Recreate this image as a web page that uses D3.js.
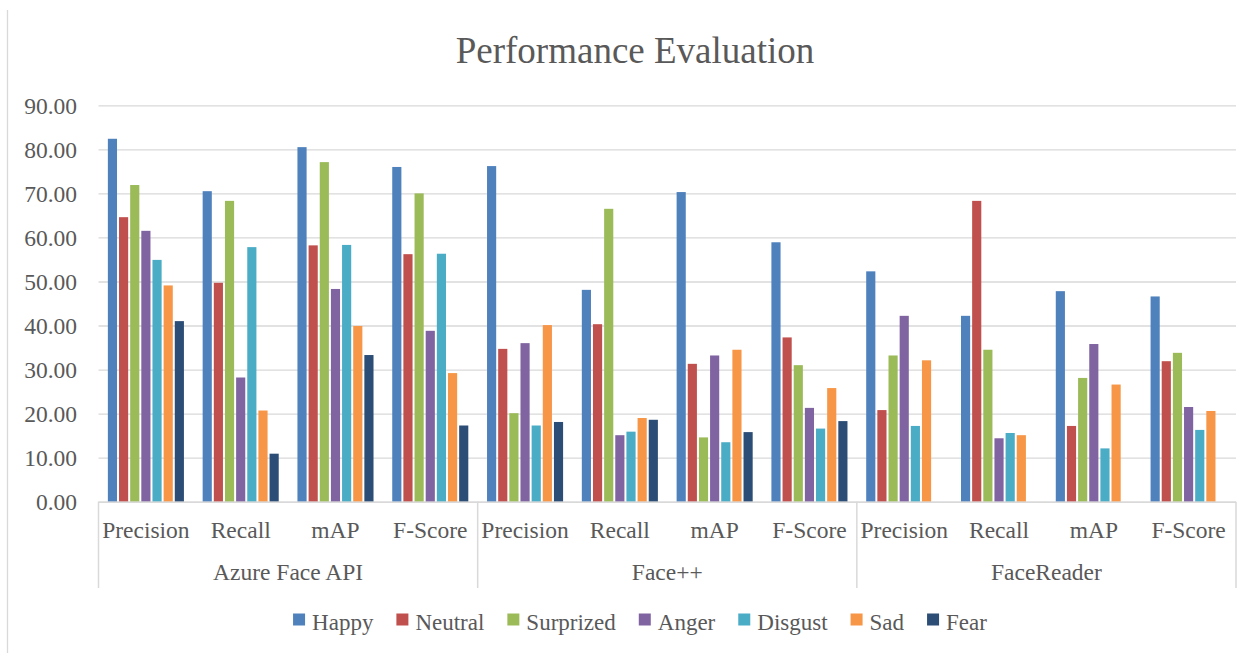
<!DOCTYPE html>
<html>
<head>
<meta charset="utf-8">
<script src="https://cdn.jsdelivr.net/npm/d3@7"></script>
<style>
  html, body { margin: 0; padding: 0; background: #fff; }
  svg { display: block; }
  text { font-family: "Liberation Serif", "Times New Roman", serif; fill: #595959; }
</style>
</head>
<body>
<svg id="chart" width="1253" height="653"></svg>
<script>
// ---- Data ----
const groups = ["Azure Face API", "Face++", "FaceReader"];
const metrics = ["Precision", "Recall", "mAP", "F-Score"];
const seriesNames = ["Happy", "Neutral", "Surprized", "Anger", "Disgust", "Sad", "Fear"];
const seriesColors = ["#4F81BD", "#C0504D", "#9BBB59", "#8064A2", "#4BACC6", "#F79646", "#2C4D75"];
const yTicks = [0, 10, 20, 30, 40, 50, 60, 70, 80, 90];

// values per series, ordered: Azure(P,R,mAP,F), Face++(P,R,mAP,F), FaceReader(P,R,mAP,F)
const happy     = [82.4, 70.5, 80.5, 76.0,  76.2, 48.1, 70.3, 58.9,  52.3, 42.2, 47.8, 46.6];
const neutral   = [64.6, 49.7, 58.2, 56.2,  34.7, 40.3, 31.3, 37.3,  20.8, 68.3, 17.2, 31.9];
const surprized = [71.9, 68.3, 77.1, 70.0,  20.1, 66.5, 14.6, 31.0,  33.2, 34.5, 28.1, 33.8];
const anger     = [61.5, 28.2, 48.3, 38.8,  36.0, 15.1, 33.2, 21.3,  42.2, 14.4, 35.8, 21.5];
const disgust   = [54.9, 57.8, 58.3, 56.3,  17.3, 15.9, 13.5, 16.6,  17.2, 15.6, 12.1, 16.3];
const sad       = [49.1, 20.7, 39.9, 29.2,  40.1, 19.0, 34.5, 25.8,  32.1, 15.1, 26.6, 20.6];
const fear      = [41.0, 10.9, 33.3, 17.3,  18.1, 18.6, 15.8, 18.3,  null, null, null, null];
const seriesValues = [happy, neutral, surprized, anger, disgust, sad, fear];

// ---- Layout ----
const svg = d3.select("#chart");
const plot = { left: 98.5, right: 1236, top: 105.3, bottom: 501.7 };

const categories = [];
groups.forEach(g => metrics.forEach(m => categories.push(g + "|" + m)));

const x0 = d3.scaleBand().domain(categories).range([plot.left, plot.right]).paddingInner(0).paddingOuter(0);
const x1 = d3.scaleBand().domain(seriesNames).range([0, x0.bandwidth()]).paddingOuter(0.75 / 8.5 * 8.5 / 7 * 0).padding(0);
// Excel gap width 150%: 7 bars + 1.5 bar widths gap per category
const slot = x0.bandwidth() / 8.5;
x1.range([slot * 0.75, slot * 0.75 + slot * 7]);
const xg = d3.scaleBand().domain(groups).range([plot.left, plot.right]);
const y = d3.scaleLinear().domain([0, 90]).range([plot.bottom, plot.top]);

// left border
svg.append("line").attr("x1", 7.5).attr("x2", 7.5).attr("y1", 10).attr("y2", 653)
  .attr("stroke", "#d9d9d9").attr("stroke-width", 1.3);

// title
svg.append("text").attr("x", 635).attr("y", 63.3).attr("text-anchor", "middle")
  .style("font-size", "37px").text("Performance Evaluation");

// gridlines
const yAxis = d3.axisLeft(y).tickValues(yTicks).tickSize(-(plot.right - plot.left)).tickFormat(d3.format(".2f"));
const gy = svg.append("g").attr("transform", `translate(${plot.left},0)`).call(yAxis);
gy.select(".domain").remove();
gy.selectAll(".tick line").attr("stroke", "#d9d9d9").attr("stroke-width", 1.3);
gy.selectAll(".tick text").attr("x", -21.5).attr("dy", "0.34em")
  .style("font-size", "23.5px").style("fill", "#595959");

// bars
const barData = [];
seriesValues.forEach((vals, si) => {
  vals.forEach((v, ci) => {
    if (v !== null) barData.push({ s: seriesNames[si], c: categories[ci], v: v, color: seriesColors[si] });
  });
});
svg.append("g").selectAll("rect").data(barData).join("rect")
  .attr("x", d => x0(d.c) + x1(d.s) + 1)
  .attr("width", x1.bandwidth() - 2)
  .attr("y", d => y(d.v))
  .attr("height", d => y(0) - y(d.v))
  .attr("fill", d => d.color);

// category axis line
svg.append("line").attr("x1", plot.left).attr("x2", plot.right).attr("y1", plot.bottom + 0.5).attr("y2", plot.bottom + 0.5)
  .attr("stroke", "#d9d9d9").attr("stroke-width", 1.5);
// group separators
const seps = groups.map(g => xg(g)).concat([plot.right]);
svg.append("g").selectAll("line").data(seps).join("line")
  .attr("x1", d => d).attr("x2", d => d).attr("y1", plot.bottom).attr("y2", 588)
  .attr("stroke", "#d9d9d9").attr("stroke-width", 1.5);

// category labels
svg.append("g").selectAll("text").data(categories).join("text")
  .attr("x", d => x0(d) + x0.bandwidth() / 2).attr("y", 538).attr("text-anchor", "middle")
  .style("font-size", "23.5px").text(d => d.split("|")[1]);
// group labels
svg.append("g").selectAll("text").data(groups).join("text")
  .attr("x", d => xg(d) + xg.bandwidth() / 2).attr("y", 580).attr("text-anchor", "middle")
  .style("font-size", "23.5px").text(d => d);

// legend
const legend = svg.append("g");
const items = legend.selectAll("g").data(seriesNames).join("g");
items.append("rect").attr("width", 12).attr("height", 12).attr("y", 613.5)
  .attr("fill", (d, i) => seriesColors[i]);
items.append("text").attr("x", 19).attr("y", 630).style("font-size", "23px").text(d => d);
let cx = 0;
const gap = 23;
const widths = [];
items.each(function () { widths.push(19 + d3.select(this).select("text").node().getComputedTextLength()); });
const total = d3.sum(widths) + gap * (widths.length - 1);
let start = 640 - total / 2;
items.attr("transform", (d, i) => {
  const t = `translate(${start},0)`;
  start += widths[i] + gap;
  return t;
});
</script>
</body>
</html>
